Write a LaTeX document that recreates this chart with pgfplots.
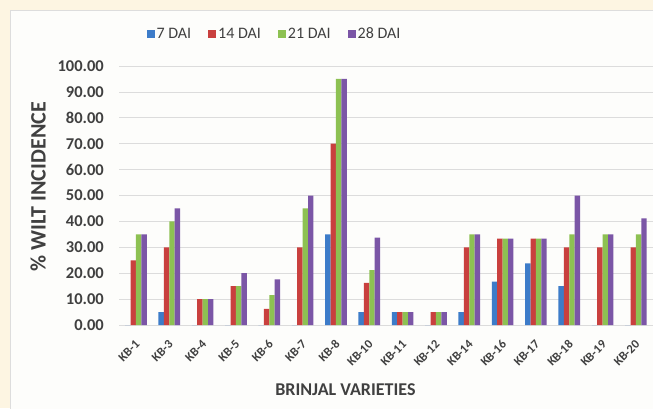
\documentclass[border=0pt]{standalone}
\usepackage{pgfplots}
\pgfplotsset{compat=1.18}
\usepackage{fontspec}
\setmainfont{Carlito}

\definecolor{cream}{HTML}{FDF5E2}
\definecolor{panel}{HTML}{FDFDFB}
\definecolor{frame}{HTML}{DDDDDD}
\definecolor{gridc}{HTML}{DCDCDC}
\definecolor{txt}{HTML}{404040}
\definecolor{cblue}{HTML}{3D7CC9}
\definecolor{cred}{HTML}{C9403E}
\definecolor{cgreen}{HTML}{8DC152}
\definecolor{cpurple}{HTML}{7B56A6}

% wilt incidence (%) per variety: 0 = KB-1 ... 15 = KB-20
\pgfplotstableread{
x  d7    d14   d21   d28
0  0     25    35    35
1  5     30    40    45
2  0     10    10    10
3  0     15    15    20
4  0     6.2   11.5  17.6
5  0     30    45    50
6  35    70    95    95
7  5     16.3  21.2  33.7
8  5     5     5     5
9  0     5     5     5
10 5     30    35    35
11 16.7  33.33 33.33 33.33
12 23.8  33.33 33.33 33.33
13 15    30    35    50
14 0     30    35    35
15 0     30    35    41.2
}\wilt

\begin{document}
\begin{tikzpicture}[x=1pt,y=1pt]
\path[use as bounding box] (0,0) rectangle (653,408);
\fill[cream] (0,0) rectangle (653,408);
\filldraw[fill=panel, draw=frame, line width=0.8pt] (10,-5) rectangle (665,398);
\begin{axis}[
  at={(119.3pt,83pt)}, anchor=south west,
  scale only axis, width=533.3pt, height=259pt,
  ybar=0pt, bar width=5.4pt,
  xmin=-0.5, xmax=15.5, ymin=0, ymax=100,
  axis line style={draw=none},
  major tick length=0pt,
  xtick=data,
  xticklabels={KB-1,KB-3,KB-4,KB-5,KB-6,KB-7,KB-8,KB-10,KB-11,KB-12,KB-14,KB-16,KB-17,KB-18,KB-19,KB-20},
  ytick={0,10,...,100},
  ymajorgrids, grid style={gridc, line width=0.8pt},
  /pgf/number format/.cd, fixed, fixed zerofill, precision=2, assume math mode=true,
  /pgfplots/.cd,
  yticklabel style={font=\fontsize{16.5}{16.5}\selectfont\bfseries, text=txt, xshift=-12pt},
  xticklabel style={font=\fontsize{12.5}{12.5}\selectfont\bfseries, text=txt, inner sep=0.5pt,
    xshift=2pt, yshift=-17pt, rotate=45, anchor=east},
  ylabel={\% WILT INCIDENCE},
  ylabel style={font=\fontsize{22}{22}\selectfont\bfseries, text=txt, at={(axis description cs:-0.152,0.533)}, anchor=center},
  xlabel={BRINJAL VARIETIES},
  xlabel style={font=\fontsize{18}{18}\selectfont\bfseries, text=txt, at={(axis description cs:0.424,-0.251)}, anchor=center},
  legend style={at={(axis description cs:0.291,1.124)}, anchor=center, draw=none, fill=none,
    legend columns=-1, font=\fontsize{16}{16}\selectfont, text=txt,
    /tikz/every even column/.append style={column sep=15pt}},
  legend image code/.code={\fill[#1,draw=none] (0pt,-4pt) rectangle (8pt,4pt);},
]
\addplot[fill=cblue, draw=none] table[x=x,y=d7] {\wilt};
\addplot[fill=cred, draw=none] table[x=x,y=d14] {\wilt};
\addplot[fill=cgreen, draw=none] table[x=x,y=d21] {\wilt};
\addplot[fill=cpurple, draw=none] table[x=x,y=d28] {\wilt};
\legend{7 DAI,14 DAI,21 DAI,28 DAI}
\end{axis}
\end{tikzpicture}
\end{document}
